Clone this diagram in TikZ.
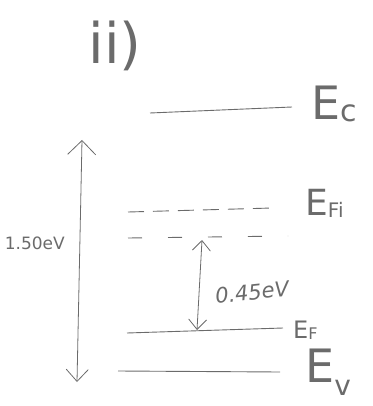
\documentclass[tikz,border=0pt]{standalone}
\usepackage{fontspec}
\setsansfont{DejaVu Sans}
\usetikzlibrary{arrows.meta}
\definecolor{pencil}{gray}{0.42}
\tikzset{
  level/.style={draw=pencil, line width=0.9pt},
  dlevel/.style={draw=pencil, line width=0.9pt, dash pattern=on 16pt off 9pt},
  ddlevel/.style={draw=pencil, line width=0.9pt, dash pattern=on 14pt off 26pt},
  gap/.style={draw=pencil, line width=0.8pt, {Straight Barb[length=12pt,width=22pt]}-{Straight Barb[length=14pt,width=28pt]}},
  lbl/.style={text=pencil, font=\sffamily, inner sep=0pt},
  elbl/.style={text=pencil, inner sep=0pt, anchor=west}
}
\begin{document}
\begin{tikzpicture}[x=1pt,y=-1pt]
\useasboundingbox (0,0) rectangle (372,406);
% title
\node[lbl, font=\sffamily\fontsize{56}{56}\selectfont, anchor=center] (title) at (115,46) {ii)};
% levels
\coordinate (ecL) at (150,113); \coordinate (ecR) at (292,107);
\draw[level] (ecL) -- (ecR);
\node[elbl, font=\sffamily\fontsize{46}{46}\selectfont] (ec) at (311,104) {E\raisebox{-0.05ex}{\fontsize{30}{30}\selectfont c}};
\coordinate (efiL) at (128,212); \coordinate (efiR) at (272,208);
\draw[dlevel] (efiL) -- (efiR);
\node[elbl, font=\sffamily\fontsize{36}{36}\selectfont] (efi) at (305,203) {E\raisebox{-0.1ex}{\fontsize{20}{20}\selectfont Fi}};
\coordinate (edL) at (128,238); \coordinate (edR) at (288,236);
\draw[ddlevel] (edL) -- (edR);
\coordinate (efL) at (127,333); \coordinate (efR) at (283,328);
\draw[level] (efL) -- (efR);
\node[elbl, font=\sffamily\fontsize{24}{24}\selectfont] (ef) at (293,330) {E\raisebox{-0.1ex}{\fontsize{16}{16}\selectfont F}};
\coordinate (evL) at (118,371); \coordinate (evR) at (280,372);
\draw[level] (evL) -- (evR);
\node[elbl, font=\sffamily\fontsize{46}{46}\selectfont] (ev) at (305,372) {E\raisebox{-0.5ex}{\fontsize{28}{28}\selectfont v}};
% gap arrows
\coordinate (bigT) at (82,140); \coordinate (bigB) at (77,382);
\draw[gap] (bigB) -- (bigT);
\node[lbl, font=\sffamily\fontsize{17}{17}\selectfont, anchor=east] (eg) at (65,243) {1.50eV};
\coordinate (smT) at (202,240); \coordinate (smB) at (197,330);
\draw[draw=pencil, line width=0.8pt, {Straight Barb[length=10pt,width=18pt]}-{Straight Barb[length=10pt,width=18pt]}] (smB) -- (smT);
\node[lbl, font=\sffamily\itshape\fontsize{21}{21}\selectfont, anchor=west, rotate=6] (de) at (215,296) {0.45eV};
\end{tikzpicture}
\end{document}
